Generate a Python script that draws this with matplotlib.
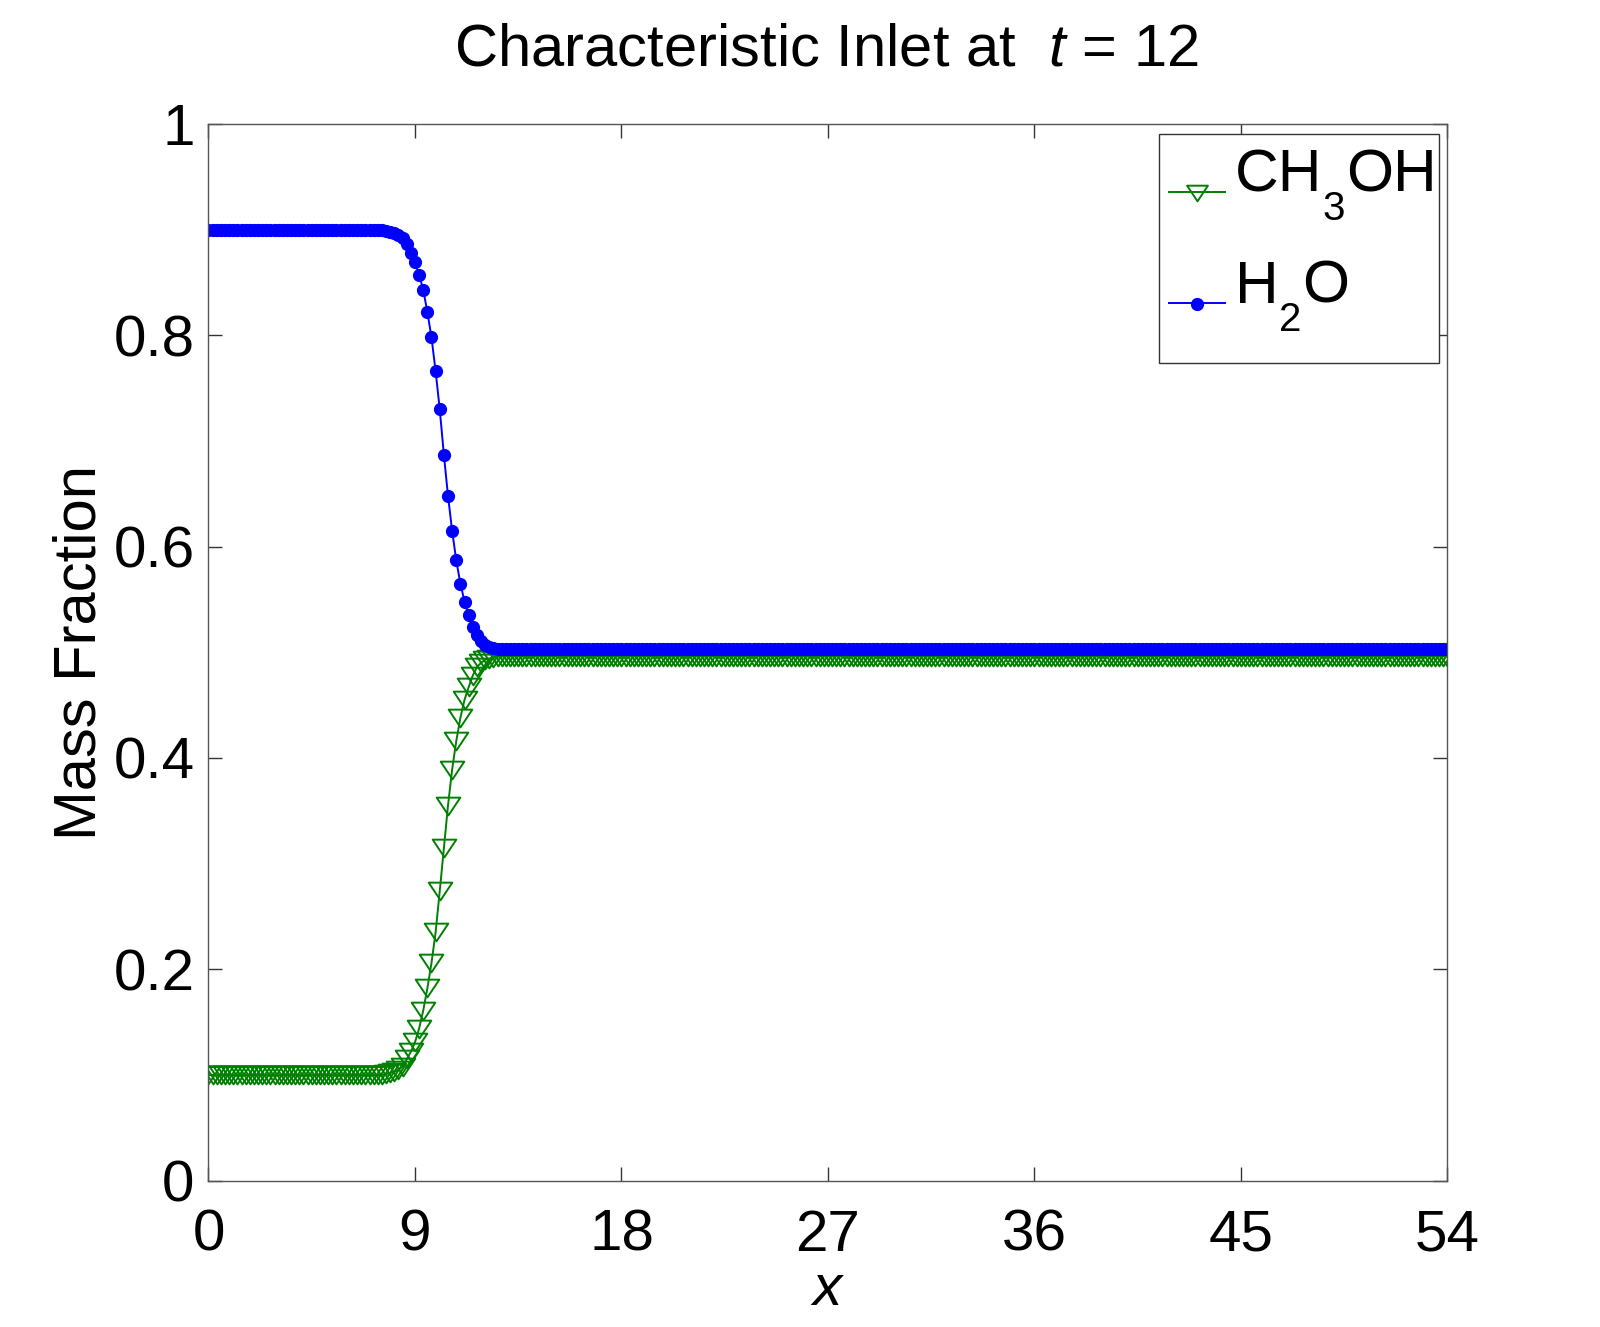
import numpy as np
import matplotlib
matplotlib.use("Agg")
import matplotlib.pyplot as plt
from matplotlib.path import Path
from matplotlib.patches import Rectangle
from matplotlib.lines import Line2D

plt.rcParams['font.family'] = ['Liberation Sans', 'DejaVu Sans']
plt.rcParams['mathtext.fontset'] = 'custom'
plt.rcParams['mathtext.rm'] = 'Liberation Sans'
plt.rcParams['mathtext.it'] = 'Liberation Sans:italic'

# ---- data ----
n_points = 301
x_min, x_max = 0.0, 54.0
x = np.linspace(x_min, x_max, n_points)

h2o_left = [0.900] * 43
h2o_front = [0.899, 0.898, 0.897, 0.895, 0.892, 0.886, 0.878, 0.869, 0.857,
             0.843, 0.822, 0.798, 0.766, 0.730, 0.687, 0.648, 0.615, 0.587,
             0.565, 0.548, 0.535, 0.524, 0.516, 0.511, 0.507, 0.505, 0.504]
h2o_right = [0.503] * (n_points - 43 - 27)
h2o = np.array(h2o_left + h2o_front + h2o_right)

ch3oh_left = [0.100] * 43
ch3oh_front = [0.101, 0.102, 0.103, 0.105, 0.108, 0.115, 0.122, 0.131, 0.144,
               0.161, 0.182, 0.206, 0.235, 0.274, 0.315, 0.355, 0.389, 0.416,
               0.438, 0.455, 0.467, 0.478, 0.486, 0.490, 0.493, 0.494, 0.495]
ch3oh_right = [0.496] * (n_points - 43 - 27)
ch3oh = np.array(ch3oh_left + ch3oh_front + ch3oh_right)

x_ticks = [0, 9, 18, 27, 36, 45, 54]
y_ticks = [0, 0.2, 0.4, 0.6, 0.8, 1.0]
y_ticklabels = ['0', '0.2', '0.4', '0.6', '0.8', '1']
title_text = 'Characteristic Inlet at  $t$ = 12'
# legend labels as (text, is_subscript) pieces
label_ch3oh = [('CH', False), ('3', True), ('OH', False)]
label_h2o = [('H', False), ('2', True), ('O', False)]

GREEN = '#008000'
BLUE = '#0000ff'

# ---- figure ----
W, H = 1600, 1327
fig = plt.figure(figsize=(W / 100, H / 100), dpi=100)
ax = fig.add_axes([0.1303, 0.1102, 0.7743, 0.7965])

tri = Path([(-1.0, 0.75), (1.0, 0.75), (0.0, -0.75), (-1.0, 0.75)],
           [Path.MOVETO, Path.LINETO, Path.LINETO, Path.CLOSEPOLY])

ax.plot(x, ch3oh, color=GREEN, lw=1.4, marker=tri, markersize=17,
        markerfacecolor='none', markeredgecolor=GREEN, markeredgewidth=1.4)
ax.plot(x, h2o, color=BLUE, lw=1.4, marker='o', markersize=8.5,
        markerfacecolor=BLUE, markeredgecolor=BLUE)

ax.set_xlim(x_min, x_max)
ax.set_ylim(0, 1)
ax.set_xticks(x_ticks)
ax.set_xticklabels([str(v) for v in x_ticks])
ax.set_yticks(y_ticks)
ax.set_yticklabels(y_ticklabels)

for s in ax.spines.values():
    s.set_color('#555555')
    s.set_linewidth(1.0)
ax.tick_params(direction='in', length=10, width=1.0, color='#333333',
               top=True, right=True, labelsize=42, pad=10)
ax.tick_params(axis='x', pad=20)

ax.set_xlabel('$x$', fontsize=42, labelpad=0)
ax.set_ylabel('Mass Fraction', fontsize=43, labelpad=4)


def fx(px):
    return px / W


def fy(py):
    return 1 - py / H


fig.text(fx(826), fy(66), title_text, fontsize=43, ha='center', va='baseline')

# ---- legend drawn by hand (MATLAB-style large, low subscripts) ----
frame = Rectangle((fx(1159), fy(363)), fx(1439) - fx(1159), fy(134) - fy(363),
                  transform=fig.transFigure, facecolor='white',
                  edgecolor='#333333', linewidth=1.0, zorder=5)
fig.add_artist(frame)

rows = [
    (191.7, GREEN, dict(marker=tri, markersize=15, markerfacecolor='none',
                        markeredgecolor=GREEN, markeredgewidth=1.4), label_ch3oh),
    (302.7, BLUE, dict(marker='o', markersize=8.5, markerfacecolor=BLUE,
                       markeredgecolor=BLUE), label_h2o),
]
main_fs, sub_fs, sub_drop = 43.5, 29, 28
fig.canvas.draw()
renderer = fig.canvas.get_renderer()
for base_y, col, mk, pieces in rows:
    fig.add_artist(Line2D([fx(1169), fx(1225)], [fy(base_y), fy(base_y)],
                          transform=fig.transFigure, color=col, lw=1.4, zorder=6))
    fig.add_artist(Line2D([fx(1197)], [fy(base_y + 1)],
                          transform=fig.transFigure, color=col, lw=0, zorder=7, **mk))
    cur_x = 1235.0
    for txt, is_sub in pieces:
        yy = base_y + (sub_drop if is_sub else 0)
        t = fig.text(fx(cur_x), fy(yy), txt, fontsize=sub_fs if is_sub else main_fs,
                     ha='left', va='baseline', zorder=8)
        bb = t.get_window_extent(renderer)
        cur_x = bb.x1 + 0.5

fig.savefig('out.png', dpi=100, facecolor='white')
